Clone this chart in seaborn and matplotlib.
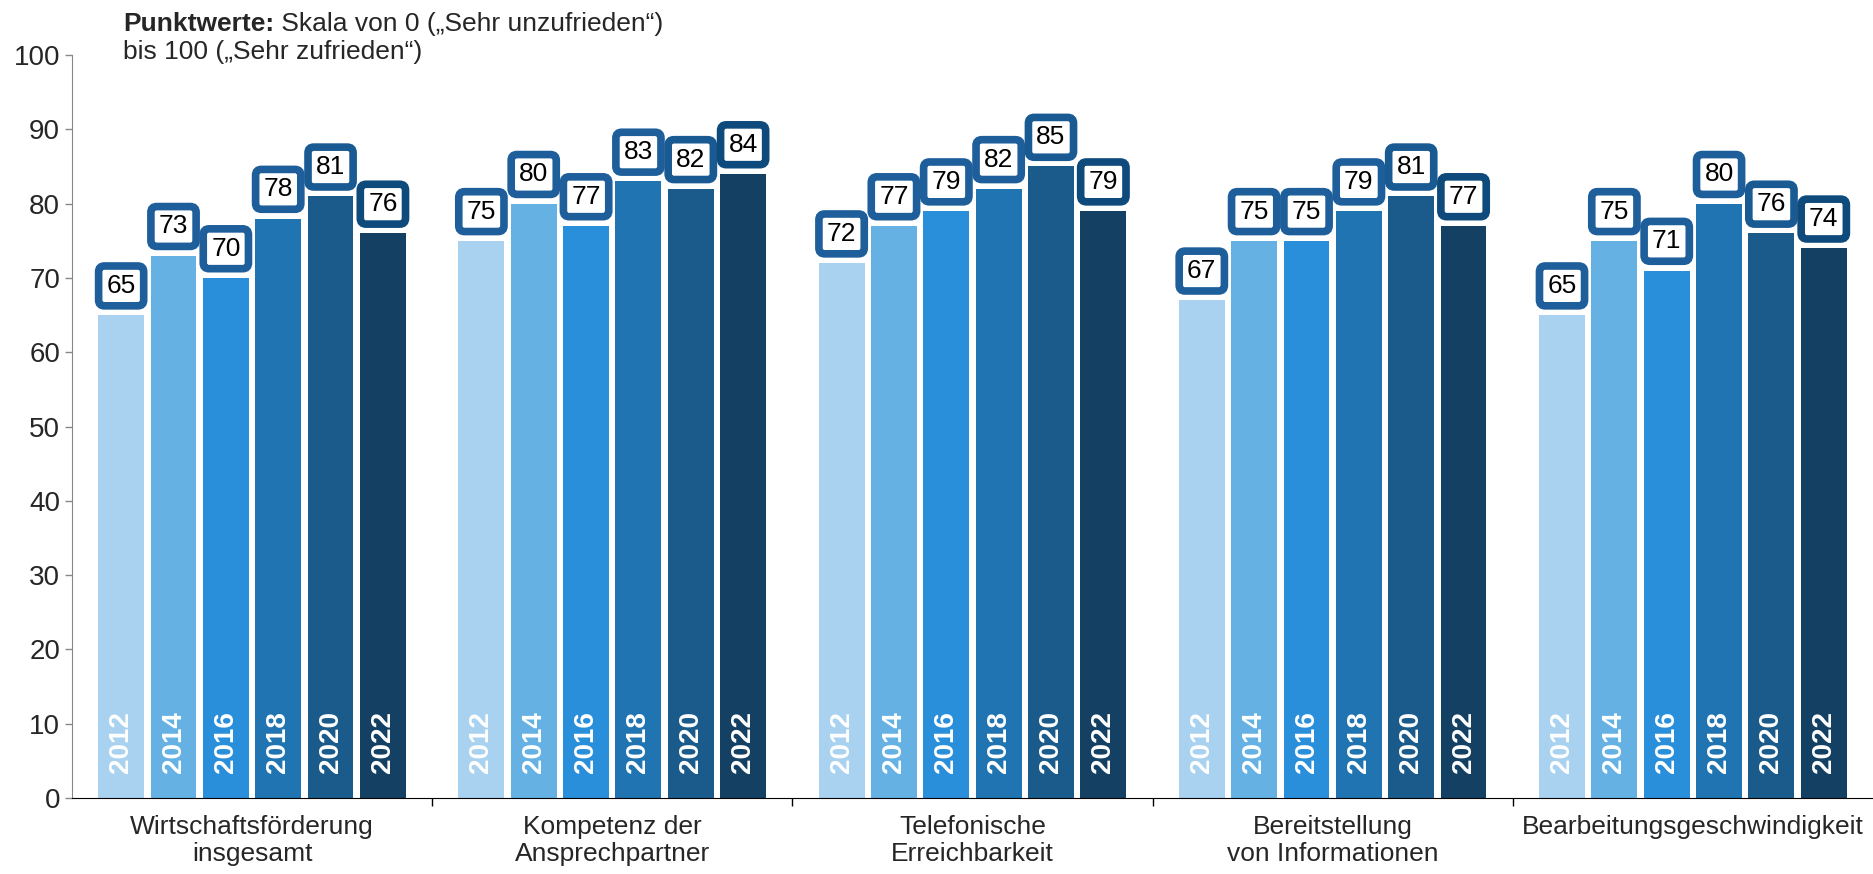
import matplotlib
matplotlib.use("Agg")
import matplotlib.pyplot as plt
import seaborn as sns
import pandas as pd

categories = ["Wirtschaftsförderung\ninsgesamt", "Kompetenz der\nAnsprechpartner",
              "Telefonische\nErreichbarkeit", "Bereitstellung\nvon Informationen",
              "Bearbeitungsgeschwindigkeit"]
years = ["2012", "2014", "2016", "2018", "2020", "2022"]
v2012 = [65, 75, 72, 67, 65]
v2014 = [73, 80, 77, 75, 75]
v2016 = [70, 77, 79, 75, 71]
v2018 = [78, 83, 82, 79, 80]
v2020 = [81, 82, 85, 81, 76]
v2022 = [76, 84, 79, 77, 74]

bar_colors = ["#a8d2f0", "#66b1e4", "#2a8fda", "#2074b1", "#1a5b8b", "#134063"]
box_colors = ["#1e5f9b", "#1e5f9b", "#1e5f9b", "#1e5f9b", "#1a5a92", "#0e4a7b"]

rows = []
for yr, vals in zip(years, [v2012, v2014, v2016, v2018, v2020, v2022]):
    for cat, v in zip(categories, vals):
        rows.append({"Kategorie": cat, "Jahr": yr, "Wert": v})
df = pd.DataFrame(rows)

sns.set_style("white")
plt.rcParams["font.family"] = ["Liberation Sans", "DejaVu Sans"]

fig = plt.figure(figsize=(18.73, 8.74), dpi=100)
ax = fig.add_axes([0.0384, 0.087, 0.9616, 0.85])

sns.barplot(data=df, x="Kategorie", y="Wert", hue="Jahr", order=categories,
            hue_order=years, palette=bar_colors, width=0.872, gap=0.124,
            linewidth=0, saturation=1, legend=False, ax=ax, errorbar=None)

for yr, cont, bc in zip(years, ax.containers, box_colors):
    for bar in cont:
        xc = bar.get_x() + bar.get_width() / 2
        h = bar.get_height()
        ax.annotate(f"{h:.0f}", xy=(xc, h), xytext=(0, 21), textcoords="offset points",
                    ha="center", va="center", fontsize=19, color="black",
                    bbox=dict(boxstyle="round,pad=0.3,rounding_size=0.22",
                              fc="white", ec=bc, lw=5.5))
        ax.annotate(yr, xy=(xc, 0), xytext=(0, 18), textcoords="offset points",
                    ha="center", va="bottom", rotation=90, fontsize=20,
                    fontweight="bold", color="white")

ax.set_ylim(0, 100)
ax.set_yticks(range(0, 101, 10))
ax.set_xlabel("")
ax.set_ylabel("")
ax.tick_params(axis="y", labelsize=20, length=5, width=1, color="#888888", direction="out", left=True)
ax.tick_params(axis="x", which="major", labelsize=19, length=0, pad=12)
ax.set_xticks([0.5, 1.5, 2.5, 3.5], minor=True)
ax.tick_params(axis="x", which="minor", length=6, width=1, color="black", direction="out", bottom=True)
for s in ["top", "right"]:
    ax.spines[s].set_visible(False)
ax.spines["left"].set_color("#888888")
ax.spines["bottom"].set_color("black")

t1 = fig.text(0.0657, 0.964, "Punktwerte:", fontsize=19, fontweight="bold", va="baseline")
ax.annotate(" Skala von 0 („Sehr unzufrieden“)", xy=(1, 0), xycoords=t1,
            fontsize=19, va="bottom", ha="left")
fig.text(0.0657, 0.932, "bis 100 („Sehr zufrieden“)", fontsize=19, va="baseline")

fig.savefig("out.png", dpi=100)
